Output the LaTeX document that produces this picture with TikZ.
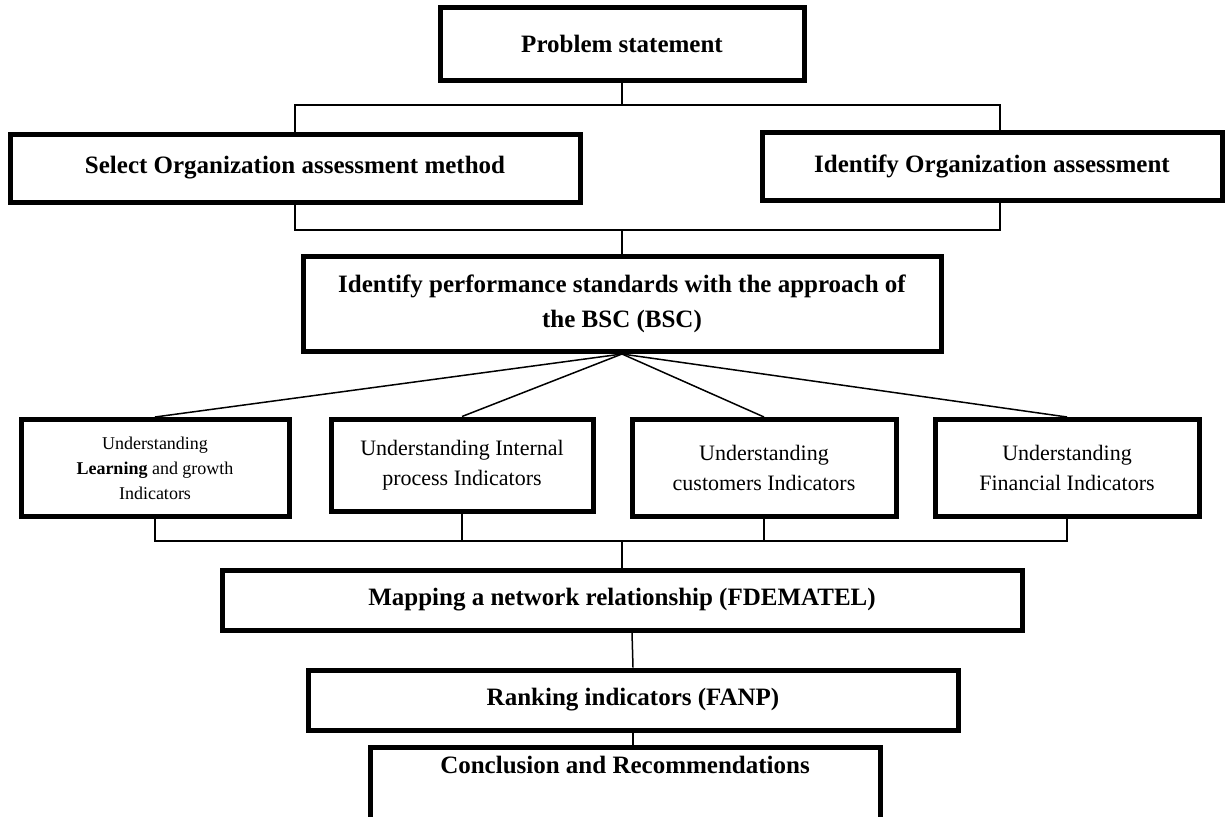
\documentclass[tikz,border=0pt]{standalone}
\usepackage{fontspec}
\setmainfont{Liberation Serif}
\usetikzlibrary{positioning}

\begin{document}
\begin{tikzpicture}[x=1pt,y=-1pt,
  box/.style={draw=black,line width=5pt,inner sep=0pt,align=center,
    font=\fontsize{25}{35}\selectfont\bfseries},
  indbox/.style={draw=black,line width=5pt,inner sep=0pt,align=center,
    font=\fontsize{22}{30}\selectfont},
  link/.style={draw=black,line width=1.5pt}]
\clip (0,0) rectangle (1228,816);

% top part
\node[box,minimum width=364,minimum height=72] (prob) at (622,44) {Problem statement};
\node[box,minimum width=570,minimum height=68] (select) at (295,168) {Select Organization assessment method};
\node[box,minimum width=460,minimum height=68] (ident) at (992,166) {Identify Organization assessment};
\node[box,minimum width=638,minimum height=95] (bsc) at (622,304)
  {Identify performance standards with the approach of\\the BSC (BSC)};

\coordinate (topL) at (295,105);
\coordinate (topR) at (1000,105);
\coordinate (midL) at (295,230);
\coordinate (midR) at (1000,230);
\coordinate (midC) at (622,230);

\draw[link] (prob.south) -- (prob.south |- topL);
\draw[link] (select.north) -- (topL) -- (topR) -- (ident.north -| topR);
\draw[link] (select.south) -- (midL) -- (midR) -- (ident.south -| midR);
\draw[link] (midC) -- (bsc.north);

% indicators
\node[indbox,minimum width=268,minimum height=97,font=\fontsize{18}{25}\selectfont] (learn) at (155,468)
  {Understanding\\\textbf{Learning} and growth\\Indicators};
\node[indbox,minimum width=262,minimum height=92] (intern) at (462,465) {Understanding Internal\\process Indicators};
\node[indbox,minimum width=264,minimum height=97] (cust) at (764,468) {Understanding\\customers Indicators};
\node[indbox,minimum width=264,minimum height=97] (fin) at (1067,468) {Understanding\\Financial Indicators};

\coordinate (fan) at (bsc.south);
\foreach \ind in {learn,intern,cust,fin}
  \draw[link] (fan) -- (\ind.north);

\coordinate (botL) at (155,541);
\coordinate (botC) at (622,541);
\draw[link] (learn.south) -- (botL) -- (botL -| fin.south) -- (fin.south);
\draw[link] (intern.south) -- (intern.south |- botL);
\draw[link] (cust.south) -- (cust.south |- botL);

% bottom part
\node[box,minimum width=800,minimum height=60] (map) at (622,600) {Mapping a network relationship (FDEMATEL)};
\node[box,minimum width=650,minimum height=60] (rank) at (633,700) {Ranking indicators (FANP)};
\node[box,minimum width=510,minimum height=90,text depth=55pt,anchor=north] (concl) at (625,745)
  {Conclusion and Recommendations};

\draw[link] (botC) -- (map.north);
\draw[link] ([xshift=10pt]map.south) -- (rank.north);
\draw[link] (rank.south) -- (rank.south |- concl.north);
\end{tikzpicture}
\end{document}
